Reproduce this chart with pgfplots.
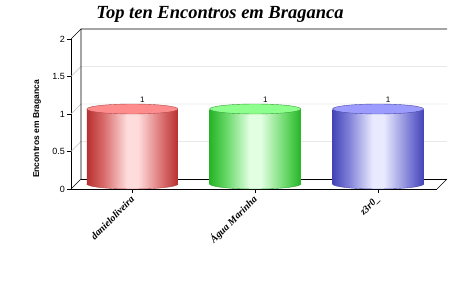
\documentclass[border=0pt]{standalone}
\usepackage{fontspec}
\setmainfont{Liberation Serif}
\setsansfont{Liberation Sans}
\usepackage{pgfplots}
\pgfplotsset{compat=1.18}
\usetikzlibrary{shapes.geometric}
\definecolor{rEdge}{HTML}{B83030}
\definecolor{rSide}{HTML}{D86A6A}
\definecolor{rMid}{HTML}{FFDCDC}
\definecolor{rTop}{HTML}{FF8C8C}
\definecolor{rLine}{HTML}{B04848}
\definecolor{gEdge}{HTML}{28B428}
\definecolor{gSide}{HTML}{66D866}
\definecolor{gMid}{HTML}{E2FFE2}
\definecolor{gTop}{HTML}{8CFF8C}
\definecolor{gLine}{HTML}{38A038}
\definecolor{bEdge}{HTML}{4444B8}
\definecolor{bSide}{HTML}{8080D8}
\definecolor{bMid}{HTML}{EAEAFF}
\definecolor{bTop}{HTML}{9C9CFF}
\definecolor{bLine}{HTML}{4848A8}
\definecolor{gridc}{HTML}{C0C0C0}
\pgfdeclarehorizontalshading{redcyl}{100bp}{color(0bp)=(rEdge); color(25bp)=(rEdge); color(34bp)=(rSide); color(47bp)=(rMid); color(53bp)=(rMid); color(67bp)=(rSide); color(75bp)=(rEdge); color(100bp)=(rEdge)}
\pgfdeclarehorizontalshading{greencyl}{100bp}{color(0bp)=(gEdge); color(25bp)=(gEdge); color(34bp)=(gSide); color(47bp)=(gMid); color(53bp)=(gMid); color(67bp)=(gSide); color(75bp)=(gEdge); color(100bp)=(gEdge)}
\pgfdeclarehorizontalshading{bluecyl}{100bp}{color(0bp)=(bEdge); color(25bp)=(bEdge); color(34bp)=(bSide); color(47bp)=(bMid); color(53bp)=(bMid); color(67bp)=(bSide); color(75bp)=(bEdge); color(100bp)=(bEdge)}
\pgfplotsset{
  ell/.style={draw=none, mark=none, nodes near coords={\relax},
    every node near coord/.append style={ellipse, minimum width=91pt, minimum height=10pt, inner sep=0pt, anchor=center, yshift=5pt, #1}},
  body/.style={draw=none, mark=none, nodes near coords={\relax},
    visualization depends on={rawy \as \yval},
    every node near coord/.append style={rectangle, minimum width=91pt, minimum height=\yval*75pt, inner sep=0pt, anchor=north, yshift=5pt, #1}},
}
\begin{document}
\begin{tikzpicture}
\path[use as bounding box, fill=white] (0pt,0pt) rectangle (450pt,300pt);
\node[font=\fontsize{18.5}{22}\selectfont\bfseries\itshape] at (220pt,286pt) {Top ten Encontros em Braganca};
\node[rotate=90, font=\sffamily\bfseries\fontsize{8.5}{10}\selectfont] at (37pt,171pt) {Encontros em Braganca};
\begin{axis}[at={(71pt,111pt)}, anchor=south west, scale only axis,
  width=366pt, height=150pt,
  xmin=-0.5, xmax=2.48, ymin=0, ymax=2,
  axis lines*=left, axis line style={black, line width=0.6pt},
  tick align=outside, major tick length=4pt,
  tick style={black, line width=0.5pt},
  xtick={0,1,2}, xticklabels={danieloliveira, Água Marinha, z3r0\_},
  xticklabel style={yshift=-4pt, xshift=1pt, rotate=45, anchor=east, font=\bfseries\itshape\fontsize{10}{12}\selectfont, inner sep=1pt},
  ytick={0,0.5,1,1.5,2},
  yticklabel style={font=\sffamily\fontsize{9}{10}\selectfont, inner sep=2pt},
  /pgf/number format/assume math mode=true,
  /pgf/number format/fixed,
  clip=false,
]
% walls and grid
\draw[gridc] (axis cs:-0.5,0.5) -- ++(10pt,10pt) -- ++(366pt,0pt);
\draw[gridc] (axis cs:-0.5,1) -- ++(10pt,10pt) -- ++(366pt,0pt);
\draw[gridc] (axis cs:-0.5,1.5) -- ++(10pt,10pt) -- ++(366pt,0pt);
\draw[black, line width=0.6pt] (axis cs:-0.5,0) -- ++(10pt,10pt) -- ++(0pt,150pt);
\draw[black, line width=0.6pt] (axis cs:-0.5,2) -- ++(10pt,10pt) -- ++(366pt,0pt);
\draw[black, line width=0.6pt] (axis cs:-0.5,0) ++(10pt,10pt) -- ++(366pt,0pt);
\draw[black, line width=0.6pt] (axis cs:2.48,0) -- ++(10pt,10pt);
% red cylinder
\addplot[ell={shading=redcyl, draw=rLine, line width=0.4pt}] coordinates {(0,0)};
\addplot[body={shading=redcyl}] coordinates {(0,1)};
\addplot[ell={fill=rTop, draw=rLine, line width=0.4pt}] coordinates {(0,1)};
% green cylinder
\addplot[ell={shading=greencyl, draw=gLine, line width=0.4pt}] coordinates {(1,0)};
\addplot[body={shading=greencyl}] coordinates {(1,1)};
\addplot[ell={fill=gTop, draw=gLine, line width=0.4pt}] coordinates {(1,1)};
% blue cylinder
\addplot[ell={shading=bluecyl, draw=bLine, line width=0.4pt}] coordinates {(2,0)};
\addplot[body={shading=bluecyl}] coordinates {(2,1)};
\addplot[ell={fill=bTop, draw=bLine, line width=0.4pt}] coordinates {(2,1)};
% value labels
\addplot[draw=none, mark=none, nodes near coords,
  every node near coord/.append style={font=\sffamily\fontsize{8}{9}\selectfont, anchor=south, xshift=10pt, yshift=10pt, inner sep=1pt}]
  coordinates {(0,1) (1,1) (2,1)};
\end{axis}
\end{tikzpicture}
\end{document}
